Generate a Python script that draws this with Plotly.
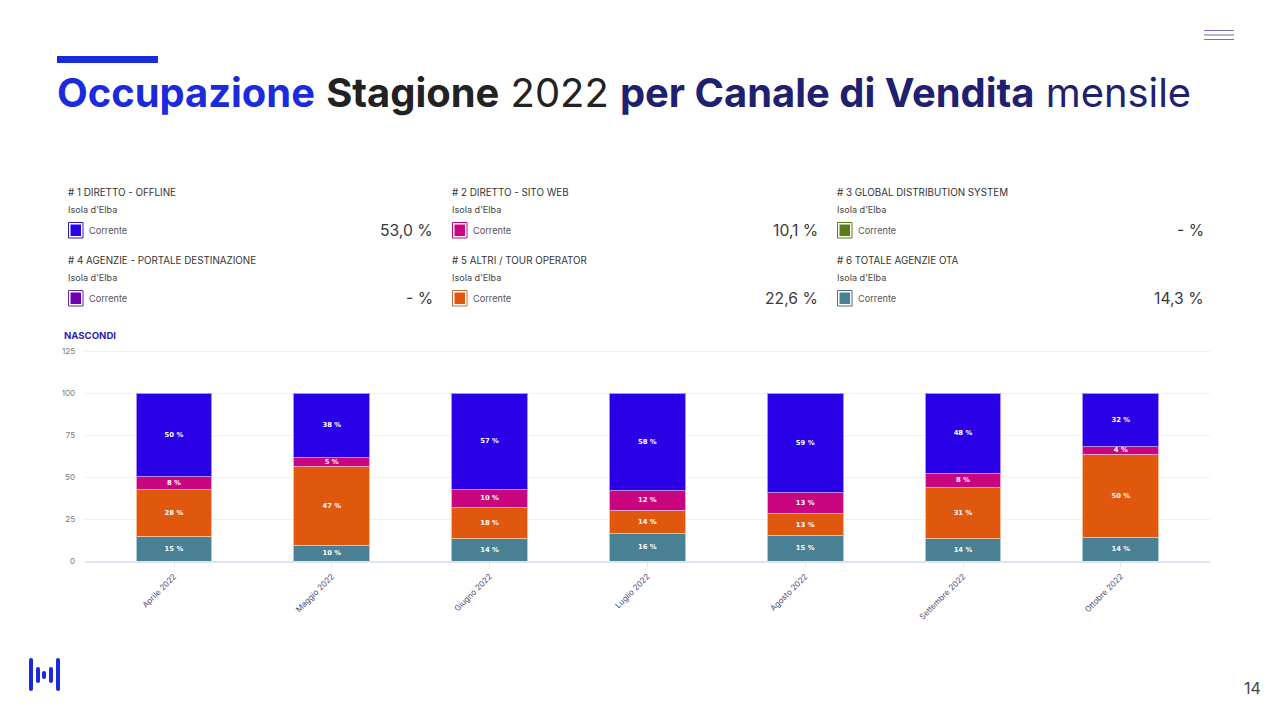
import plotly.graph_objects as go

W, H = 1280, 720
months = ["Aprile 2022", "Maggio 2022", "Giugno 2022", "Luglio 2022", "Agosto 2022", "Settembre 2022", "Ottobre 2022"]
ota = [14.5, 9.5, 13.5, 16.3, 15.1, 13.5, 14.0]
altri = [28.0, 47.0, 18.5, 14.0, 12.9, 30.5, 49.6]
sito = [7.7, 5.3, 10.6, 11.9, 13.0, 8.3, 4.5]
offline = [49.8, 38.2, 57.4, 57.8, 59.0, 47.7, 31.9]
ota_labels = ["15 %", "10 %", "14 %", "16 %", "15 %", "14 %", "14 %"]
altri_labels = ["28 %", "47 %", "18 %", "14 %", "13 %", "31 %", "50 %"]
sito_labels = ["8 %", "5 %", "10 %", "12 %", "13 %", "8 %", "4 %"]
offline_labels = ["50 %", "38 %", "57 %", "58 %", "59 %", "48 %", "32 %"]
y_ticks = [0, 25, 50, 75, 100, 125]

card_titles = ["# 1 DIRETTO - OFFLINE", "# 2 DIRETTO - SITO WEB", "# 3 GLOBAL DISTRIBUTION SYSTEM",
               "# 4 AGENZIE - PORTALE DESTINAZIONE", "# 5 ALTRI / TOUR OPERATOR", "# 6 TOTALE AGENZIE OTA"]
card_values = ["53,0 %", "10,1 %", "- %", "- %", "22,6 %", "14,3 %"]
card_colors = ["#2a00e6", "#c9067f", "#5a7d1a", "#6a00b0", "#e0570e", "#4a8094"]
card_borders = ["#2a1fa8", "#c9067f", "#5a7d1a", "#5f2a9e", "#c0703a", "#3f7186"]

BLUE, MAGENTA, ORANGE, TEAL = "#2a00e6", "#c9067f", "#e0570e", "#4a8094"
FONT = "Inter"


def px(x):
    return x / W


def py(y):
    return 1 - y / H


fig = go.Figure()
for name, vals, labels, col, edge in [
    ("Totale agenzie OTA", ota, ota_labels, TEAL, "#a9cdd6"),
    ("Altri / Tour operator", altri, altri_labels, ORANGE, "#f4bd94"),
    ("Diretto - Sito web", sito, sito_labels, MAGENTA, "#f3a0cc"),
    ("Diretto - Offline", offline, offline_labels, BLUE, "#b48cf0"),
]:
    fig.add_trace(go.Bar(
        x=months, y=vals, name=name, text=labels, width=0.48,
        marker=dict(color=col, line=dict(color=edge, width=1)),
        textposition="inside", insidetextanchor="middle", textangle=0,
        insidetextfont=dict(color="white", size=6.8, family="DejaVu Sans", weight="bold"),
        constraintext="none", cliponaxis=False,
    ))

shapes, anns = [], []


def rect(x0, y0, x1, y1, fill, line=None, lw=0):
    shapes.append(dict(type="rect", xref="paper", yref="paper", x0=px(x0), x1=px(x1), y0=py(y0), y1=py(y1),
                       fillcolor=fill, line=dict(color=line or fill, width=lw)))


def text(x, y, s, size, color, anchor="left", family=FONT):
    anns.append(dict(xref="paper", yref="paper", x=px(x), y=py(y), text=s, showarrow=False,
                     xanchor=anchor, yanchor="middle", align=anchor, borderpad=0,
                     font=dict(size=size, color=color, family=family)))


def pill(x0, y0, x1, y1, color):
    r = (x1 - x0) / 2
    shapes.append(dict(type="path", xref="paper", yref="paper", fillcolor=color, line=dict(width=0),
                       path=f"M {px(x0)} {py(y0 + r)} Q {px(x0)} {py(y0)} {px(x0 + r)} {py(y0)} "
                            f"Q {px(x1)} {py(y0)} {px(x1)} {py(y0 + r)} L {px(x1)} {py(y1 - r)} "
                            f"Q {px(x1)} {py(y1)} {px(x0 + r)} {py(y1)} Q {px(x0)} {py(y1)} {px(x0)} {py(y1 - r)} Z"))


# title
rect(57, 56, 158, 63, "#1a2bdc")
title = ('<span style="color:#1a2bdc"><b>Occupazione</b></span> '
         '<span style="color:#222222"><b>Stagione</b> 2022</span> '
         '<span style="color:#1f2170"><b>per Canale di Vendita</b> mensile</span>')
text(56, 92, title, 39.9, "#222222")

# menu glyph
rect(1204, 30, 1234, 31, "#6f72b8")
rect(1204, 34, 1234, 36, "#b0b2e6")
rect(1204, 39, 1234, 40, "#6f72b8")

# logo
for x0, y0, x1, y1 in [(29, 658, 33, 691), (36, 667, 40, 683), (42, 671, 46, 679), (49, 667, 53, 683), (56, 658, 60, 691)]:
    pill(x0, y0, x1, y1, "#1a2bdc")

text(1262, 688, "14", 16, "#444444", "right")

# summary cards
col_x = [67.5, 451.5, 836.5]
val_x = [434, 819, 1204.5]
row_y = [0, 68]
for i, t in enumerate(card_titles):
    cx, vx, dy = col_x[i % 3], val_x[i % 3], row_y[i // 3]
    text(cx - 0.7, 192.7 + dy, t, 9.8, "#333333")
    text(cx - 0.7, 209.5 + dy, "Isola d'Elba", 9.1, "#444444")
    rect(cx + 1, 222.5 + dy, cx + 15.5, 238 + dy, "white", card_borders[i], 1)
    rect(cx + 3, 224.5 + dy, cx + 13.5, 236 + dy, card_colors[i])
    text(cx + 20, 230.5 + dy, "Corrente", 9.2, "#555555")
    text(vx, 230.5 + dy, card_values[i], 15.7, "#3a3a3a", "right")

text(63, 335, "<b>NASCONDI</b>", 9.6, "#2a1fb8")

fig.update_layout(
    width=W, height=H, autosize=False, barmode="stack", showlegend=False,
    margin=dict(l=0, r=0, t=0, b=0), paper_bgcolor="white", plot_bgcolor="white",
    shapes=shapes, annotations=anns,
    xaxis=dict(domain=[px(85), px(1210)], range=[-0.564, 6.565], type="category", automargin=False,
               tickangle=-45, ticks="outside", ticklen=4, tickcolor="#dfe3f0",
               ticklabelstandoff=2,
               tickfont=dict(size=8, color="#4a4a78", family=FONT),
               showgrid=False, showline=True, linecolor="#dfe3f0", linewidth=1.5, anchor="y"),
    yaxis=dict(domain=[py(561), py(350)], range=[0, 125.6], tickvals=y_ticks, automargin=False,
               tickfont=dict(size=8, color="#777777", family=FONT), ticklabelstandoff=9,
               gridcolor="#eef0f5", gridwidth=1, zeroline=False, showline=False, anchor="x"),
)

fig.write_html("out.html", config={"displayModeBar": False},
               post_script="document.body.style.margin='0';document.body.style.background='white';")
